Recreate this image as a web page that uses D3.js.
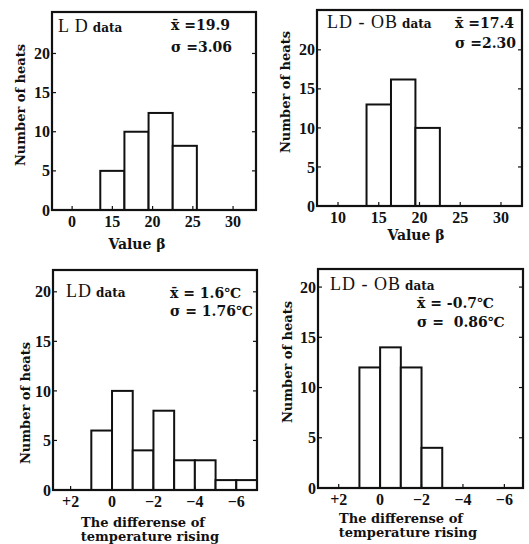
<!DOCTYPE html>
<html>
<head>
<meta charset="utf-8">
<script src="https://cdn.jsdelivr.net/npm/d3@7"></script>
<style>
  body { margin: 0; background: #fff; }
  text { font-family: "DejaVu Serif", serif; font-weight: bold; fill: #111; }
  text.tick, text.big { font-family: "Liberation Serif", serif; }
</style>
</head>
<body>
<div id="viz"></div>
<script>
// data
// value beta, LD data
const ldBetaEdges = [13.5, 16.5, 19.5, 22.5, 25.5];
const ldBetaCounts = [5, 10, 12.4, 8.2];
// value beta, LD-OB data
const obBetaEdges = [13.5, 16.5, 19.5, 22.5];
const obBetaCounts = [13, 16.2, 10];
// temperature difference, LD data
const ldTempEdges = [1, 0, -1, -2, -3, -4, -5, -6, -7];
const ldTempCounts = [6, 10, 4, 8, 3, 3, 1, 1];
// temperature difference, LD-OB data
const obTempEdges = [1, 0, -1, -2, -3];
const obTempCounts = [12, 14, 12, 4];

const betaTicks = [10, 15, 20, 25, 30];
const ldBetaTickLabels = ["0", "15", "20", "25", "30"];
const obBetaTickLabels = ["10", "15", "20", "25", "30"];
const tempTicks = [2, 0, -2, -4, -6];
const tempTickLabels = ["+2", "0", "\u22122", "\u22124", "\u22126"];
const yTicks = [0, 5, 10, 15, 20];

const width = 529, height = 544;
var svg = d3.select('#viz').append('svg').attr('width', width).attr('height', height);

const panels = [
  {
    edges: ldBetaEdges, counts: ldBetaCounts,
    box: [52, 12, 256, 210], xDomain: [7.5, 32.85], yMax: 25.3,
    xTicks: betaTicks, xLabels: ldBetaTickLabels,
    title: ["L D", "data"], titlePos: [58, 32],
    stats: ["x\u0304 =19.9", "\u03c3 =3.06"], statsPos: [171, 30, 52],
    yLabelPos: [20, 105], xTitle: ["Value \u03b2"], xTitlePos: [137, 249]
  },
  {
    edges: obBetaEdges, counts: obBetaCounts,
    box: [317, 10, 522, 206], xDomain: [7.42, 32.58], yMax: 25.1,
    xTicks: betaTicks, xLabels: obBetaTickLabels,
    title: ["LD - OB", "data"], titlePos: [327, 28],
    stats: ["x\u0304 =17.4", "\u03c3 =2.30"], statsPos: [455, 28, 48],
    yLabelPos: [285, 92], xTitle: ["Value \u03b2"], xTitlePos: [416, 240]
  },
  {
    edges: ldTempEdges, counts: ldTempCounts,
    box: [53, 270, 257, 490], xDomain: [2.85, -7], yMax: 22.2,
    xTicks: tempTicks, xLabels: tempTickLabels,
    title: ["LD", "data"], titlePos: [66, 297],
    stats: ["x\u0304 = 1.6\u2103", "\u03c3 = 1.76\u2103"], statsPos: [170, 298, 316],
    yLabelPos: [25, 403], xTitle: ["The differense of", "temperature rising"], xTitlePos: [143, 527]
  },
  {
    edges: obTempEdges, counts: obTempCounts,
    box: [318, 269, 523, 488], xDomain: [3, -6.9], yMax: 21.8,
    xTicks: tempTicks, xLabels: tempTickLabels,
    title: ["LD - OB", "data"], titlePos: [330, 290],
    stats: ["x\u0304 = -0.7\u2103", "\u03c3 =\u00a0 0.86\u2103"], statsPos: [417, 308, 327],
    yLabelPos: [287, 362], xTitle: ["The differense of", "temperature rising"], xTitlePos: [401, 523]
  }
];

function drawPanel(p) {
  let [x0, y0, x1, y1] = p.box;
  let x = d3.scaleLinear().domain(p.xDomain).range([x0, x1]);
  let y = d3.scaleLinear().domain([0, p.yMax]).range([y1, y0]);
  let g = svg.append('g');

  // bars
  let bins = p.counts.map((c, i) => ({a: p.edges[i], b: p.edges[i + 1], c: c}));
  g.selectAll('rect.bar').data(bins).enter().append('rect')
    .attr('class', 'bar')
    .attr('x', d => Math.min(x(d.a), x(d.b)))
    .attr('width', d => Math.abs(x(d.b) - x(d.a)))
    .attr('y', d => y(d.c))
    .attr('height', d => y(0) - y(d.c))
    .attr('fill', '#fff').attr('stroke', '#111').attr('stroke-width', 2);

  // frame
  g.append('rect').attr('x', x0).attr('y', y0).attr('width', x1 - x0).attr('height', y1 - y0)
    .attr('fill', 'none').attr('stroke', '#111').attr('stroke-width', 2.2);

  // inward ticks
  let yt = yTicks.filter(v => v > 0);
  g.selectAll('line.yl').data(yt).enter().append('line')
    .attr('x1', x0).attr('x2', x0 + 4).attr('y1', d => y(d)).attr('y2', d => y(d))
    .attr('stroke', '#111').attr('stroke-width', 1.2);
  g.selectAll('line.yr').data(yt).enter().append('line')
    .attr('x1', x1).attr('x2', x1 - 4).attr('y1', d => y(d)).attr('y2', d => y(d))
    .attr('stroke', '#111').attr('stroke-width', 1.2);
  g.selectAll('line.xt').data(p.xTicks).enter().append('line')
    .attr('x1', d => x(d)).attr('x2', d => x(d)).attr('y1', y1).attr('y2', y1 - 4)
    .attr('stroke', '#111').attr('stroke-width', 1.2);

  // tick labels
  g.selectAll('text.yl').data(yTicks).enter().append('text')
    .attr('class', 'tick')
    .attr('x', x0 - 2).attr('y', d => y(d)).attr('dy', '0.35em')
    .attr('text-anchor', 'end').attr('font-size', 16).text(d => d);
  g.selectAll('text.xl').data(p.xTicks).enter().append('text')
    .attr('class', 'tick')
    .attr('x', d => x(d)).attr('y', y1 + 17)
    .attr('text-anchor', 'middle').attr('font-size', 16).text((d, i) => p.xLabels[i]);

  // axis titles
  g.append('text')
    .attr('transform', 'translate(' + p.yLabelPos + ') rotate(-90)')
    .attr('dy', '0.35em').attr('text-anchor', 'middle')
    .attr('font-size', 13).text('Number of heats');
  p.xTitle.forEach((t, i) => {
    g.append('text').attr('x', p.xTitlePos[0] + i * 7).attr('y', p.xTitlePos[1] + i * 14)
      .attr('text-anchor', 'middle').attr('font-size', p.xTitle.length > 1 ? 13 : 14).text(t);
  });

  // title and stats
  let tt = g.append('text').attr('x', p.titlePos[0]).attr('y', p.titlePos[1]);
  tt.append('tspan').attr('class', 'big').attr('font-size', 18).attr('font-weight', 'normal')
    .attr('font-family', 'Liberation Serif').attr('letter-spacing', 1).text(p.title[0]);
  tt.append('tspan').attr('font-size', 12).attr('dx', 4).attr('letter-spacing', 0).text(p.title[1]);
  p.stats.forEach((s, i) => {
    g.append('text').attr('x', p.statsPos[0]).attr('y', p.statsPos[1 + i])
      .attr('font-size', 14).text(s);
  });
}

panels.forEach(drawPanel);
</script>
</body>
</html>
